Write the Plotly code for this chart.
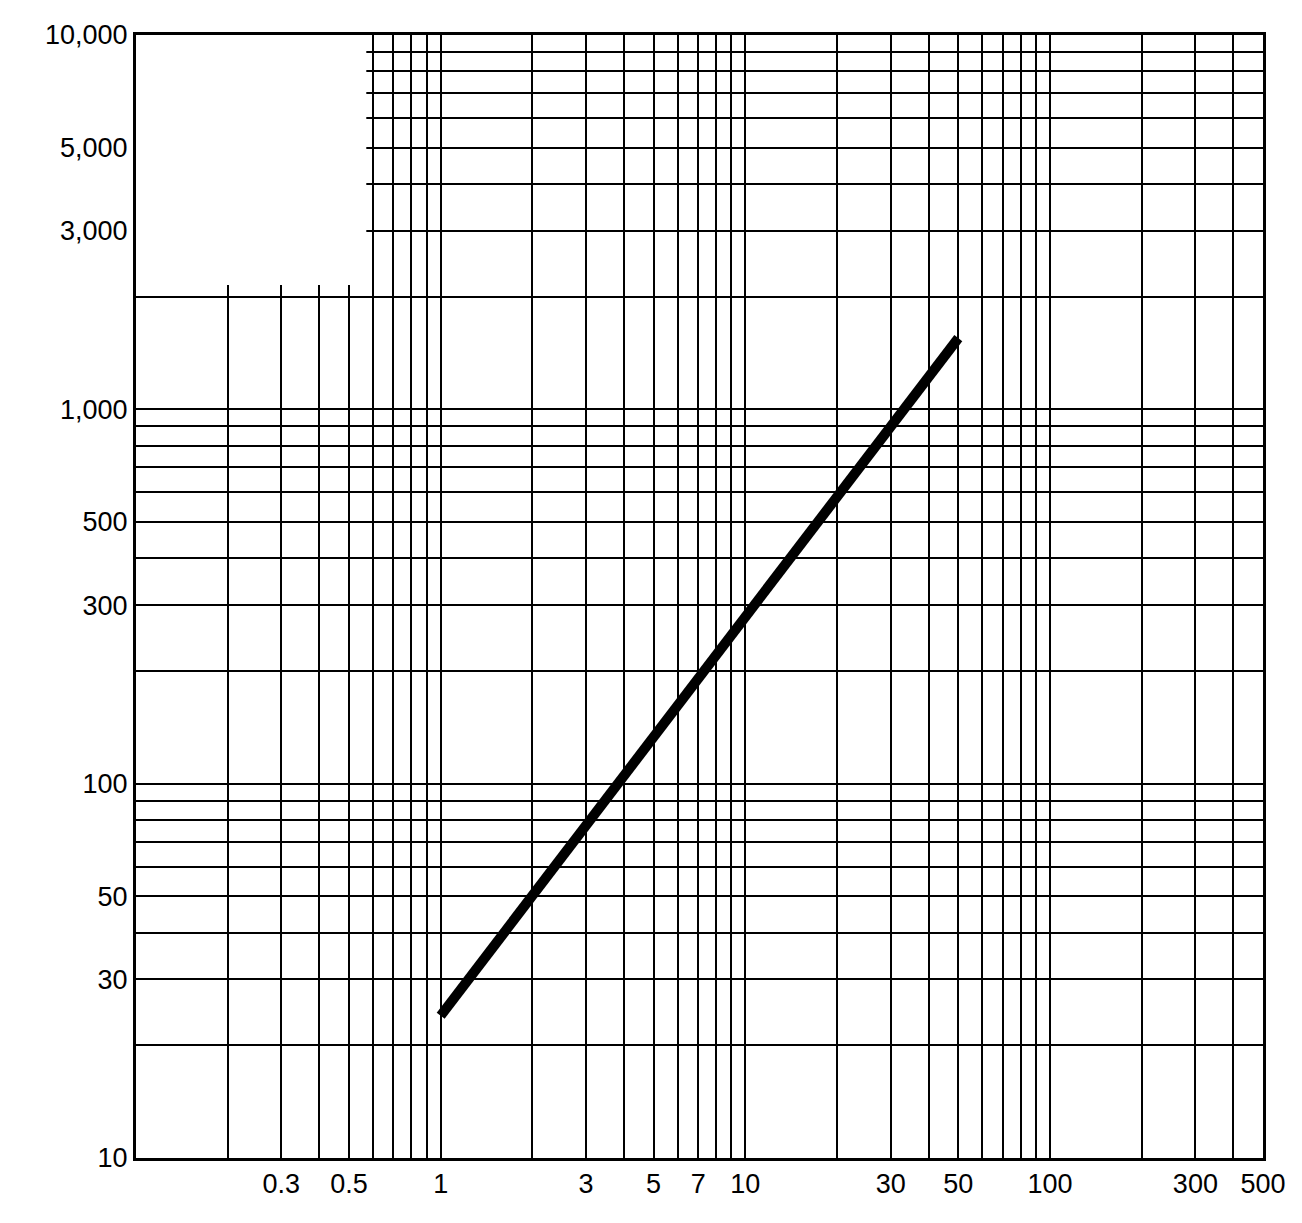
import plotly.graph_objects as go

line_x = [1, 50]
line_y = [24, 1550]

def decade_vals(lo, hi):
    v = []
    d = lo
    while d < hi:
        for m in range(1, 10):
            v.append(round(m * d, 6))
        d *= 10
    v.append(hi)
    return v

x_grid = [v for v in decade_vals(0.1, 1000) if v <= 500]
x_labels = {0.3: "0.3", 0.5: "0.5", 1: "1", 3: "3", 5: "5", 7: "7", 10: "10",
            30: "30", 50: "50", 100: "100", 300: "300", 500: "500"}
y_grid = decade_vals(10, 10000)
y_labels = {10: "10", 30: "30", 50: "50", 100: "100", 300: "300", 500: "500",
            1000: "1,000", 3000: "3,000", 5000: "5,000", 10000: "10,000"}

fig = go.Figure()
fig.add_trace(go.Scatter(x=line_x, y=line_y, mode="lines",
                         line=dict(color="black", width=10), showlegend=False))
fig.add_shape(type="rect", xref="x", yref="y", x0=0.1, x1=0.57, y0=2150, y1=10000,
              fillcolor="white", line=dict(width=0), layer="between")
fig.update_layout(
    width=1302, height=1223, paper_bgcolor="white", plot_bgcolor="white",
    margin=dict(l=128, r=47, t=25, b=73),
    font=dict(family="Liberation Sans, Arial", size=27, color="black"),
    xaxis=dict(type="log", range=[-1, 2.699], tickvals=x_grid,
               ticktext=[x_labels.get(v, "") for v in x_grid],
               showgrid=True, gridcolor="black", gridwidth=1.5, ticks="",
               showline=True, linecolor="black", linewidth=3, mirror=True, zeroline=False),
    yaxis=dict(type="log", range=[1, 4], tickvals=y_grid,
               ticktext=[y_labels.get(v, "") for v in y_grid],
               showgrid=True, gridcolor="black", gridwidth=1.5, ticks="",
               showline=True, linecolor="black", linewidth=3, mirror=True, zeroline=False),
)
fig.write_html("out.html")
